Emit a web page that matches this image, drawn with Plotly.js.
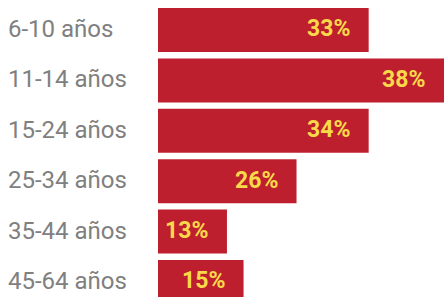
<!DOCTYPE html>
<html>
<head>
<meta charset="utf-8">
<script src="https://cdn.plot.ly/plotly-3.0.1.min.js"></script>
<style>html,body{margin:0;padding:0;background:#fff;}#chart{width:444px;height:297px;}</style>
</head>
<body>
<div id="chart"></div>
<script>
// Age groups (top to bottom)
const categories = ["6-10 años", "11-14 años", "15-24 años", "25-34 años", "35-44 años", "45-64 años"];
// Shares printed on the bars (%)
const shares = [33, 38, 34, 26, 13, 15];
// Bar lengths as drawn in the picture (in the same % units)
const barLengths = [33, 44.8, 33, 21.7, 10.8, 13.4];
const shareLabels = shares.map(v => v + "%");

const idx = categories.map((_, i) => i);

const trace = {
  type: "bar",
  orientation: "h",
  y: idx,
  x: barLengths,
  marker: {color: "#be1f2e"},
  hoverinfo: "skip",
  showlegend: false
};

const annotations = [];
categories.forEach((c, i) => {
  annotations.push({
    xref: "paper", yref: "y", x: 0, y: i, xanchor: "left", yanchor: "middle",
    xshift: -152, yshift: 1,
    text: c, showarrow: false,
    font: {family: "Roboto", size: 24, color: "#808080"}
  });
  annotations.push({
    xref: "x", yref: "y", x: barLengths[i], y: i, xanchor: "right", yanchor: "middle",
    xshift: -17, yshift: 1,
    text: "<b>" + shareLabels[i] + "</b>", showarrow: false,
    font: {family: "Roboto", size: 23, color: "#f8d94a"}
  });
});

const layout = {
  width: 444, height: 297,
  margin: {l: 158, r: 0, t: 0, b: 0, pad: 0},
  paper_bgcolor: "#ffffff", plot_bgcolor: "#ffffff",
  bargap: 0.127,
  xaxis: {range: [0, 44.8], visible: false, fixedrange: true},
  yaxis: {range: [5.298, -0.595], visible: false, fixedrange: true},
  annotations: annotations
};

Plotly.newPlot("chart", [trace], layout, {displayModeBar: false, staticPlot: true});
</script>
</body>
</html>
